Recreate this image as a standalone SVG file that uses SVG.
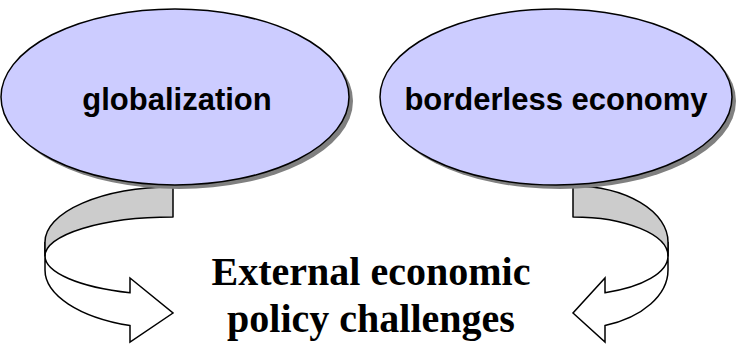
<svg xmlns="http://www.w3.org/2000/svg" width="736" height="346" viewBox="0 0 736 346">
<style>
.shadow{fill:#808080;stroke:none}
.oval{fill:#CCCCFF;stroke:#000;stroke-width:1.5}
.lbl{font-family:"Liberation Sans",Arial,sans-serif;font-weight:bold;font-size:31px;text-anchor:middle;fill:#000}
.title{font-family:"Liberation Serif","Times New Roman",serif;font-weight:bold;font-size:40px;text-anchor:middle;fill:#000}
.back{fill:#CCCCCC;stroke:#000;stroke-width:1.5;stroke-linejoin:round}
.front{fill:#FFFFFF;stroke:#000;stroke-width:1.5;stroke-linejoin:miter}
</style>
<g id="connectors">
  <g id="arrow-left">
    <path class="front" d="M45,242 L45,270 A128,59 0 0 0 130,325.6 L130,342 L173,313 L130,278 L130,292.7 A128,39 0 0 1 45,256 Z"/>
    <path class="back" d="M173,187 A128,55 0 0 0 45,242 L45,256 A128,39 0 0 1 173,217 Z"/>
  </g>
  <g id="arrow-right">
    <path class="front" d="M668,242 L668,270 A95,59 0 0 1 605,325.6 L605,342 L573,313 L605,278 L605,292.7 A95,39 0 0 0 668,256 Z"/>
    <path class="back" d="M573,186 A95,56 0 0 1 668,242 L668,256 A95,39 0 0 0 573,217 Z"/>
  </g>
</g>
<g id="node-globalization">
  <ellipse class="shadow" cx="179" cy="101" rx="174" ry="88"/>
  <ellipse class="oval" cx="175" cy="97" rx="174" ry="88"/>
  <text class="lbl" x="177" y="110">globalization</text>
</g>
<g id="node-borderless">
  <ellipse class="shadow" cx="560" cy="101" rx="176" ry="88"/>
  <ellipse class="oval" cx="556" cy="97" rx="176" ry="88"/>
  <text class="lbl" x="556" y="110">borderless economy</text>
</g>
<g id="node-challenges">
  <text class="title" x="371" y="285">External economic</text>
  <text class="title" x="371" y="332">policy challenges</text>
</g>
</svg>
